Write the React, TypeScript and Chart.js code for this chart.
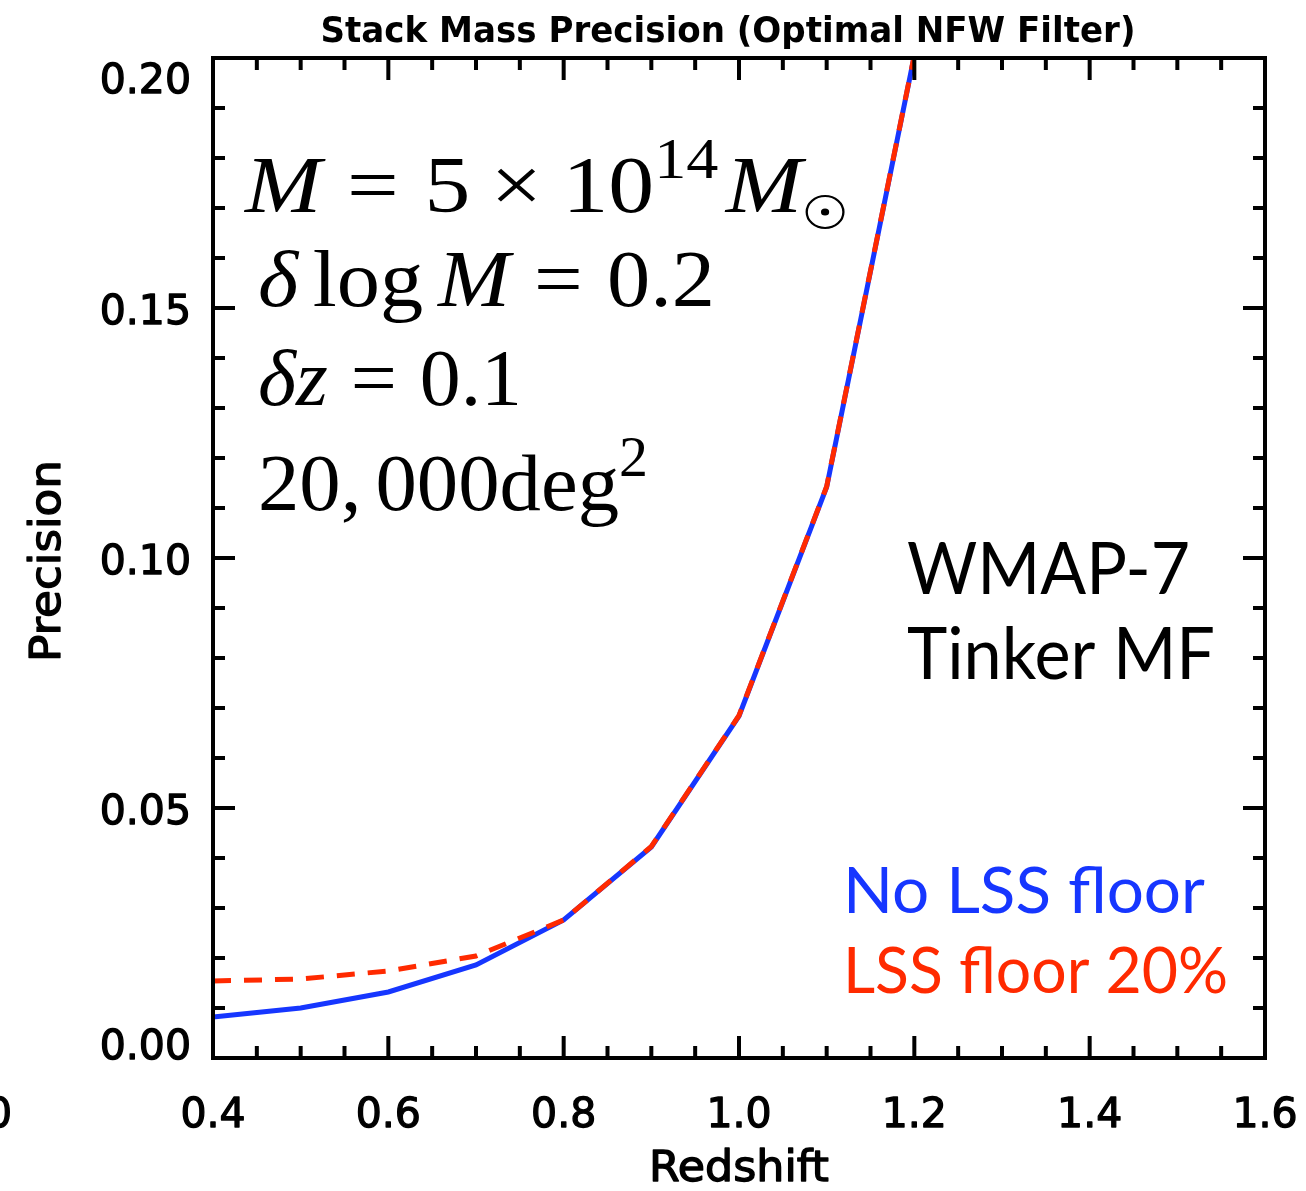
import React, { useEffect, useRef } from "react";
import { Chart, registerables } from "chart.js";

Chart.register(...registerables);

// ---- data ----
const redshift = [0.4, 0.5, 0.6, 0.7, 0.8, 0.9, 1.0, 1.1, 1.2];
const noFloor = [0.0082, 0.0100, 0.0132, 0.0186, 0.0276, 0.0422, 0.0684, 0.1142, 0.2005];
const floor20 = [0.0154, 0.0158, 0.0174, 0.0204, 0.0276, 0.0423, 0.0685, 0.1143, 0.2006];

const xTickValues = [0.4, 0.6, 0.8, 1.0, 1.2, 1.4, 1.6];
const xTickLabels = ["0.4", "0.6", "0.8", "1.0", "1.2", "1.4", "1.6"];
const yTickValues = [0.0, 0.05, 0.1, 0.15, 0.2];
const yTickLabels = ["0.00", "0.05", "0.10", "0.15", "0.20"];
const xMinorPerMajor = 4; // 0.05 steps
const yMinorPerMajor = 5; // 0.01 steps

const titleText = "Stack Mass Precision (Optimal NFW Filter)";
const xTitle = "Redshift";
const yTitle = "Precision";
const seriesNames = ["No LSS floor", "LSS floor 20%"];
const modelLines = ["WMAP-7", "Tinker MF"];

const BLUE = "#1636ff";
const RED = "#ff2a00";

const W = 1306;
const H = 1191;

function drawFit(
  ctx: CanvasRenderingContext2D,
  text: string,
  x: number,
  y: number,
  font: string,
  align: "left" | "center" | "right",
  width?: number,
  color = "#000",
  stroke = 0
) {
  ctx.save();
  ctx.font = font;
  ctx.fillStyle = color;
  ctx.strokeStyle = color;
  ctx.textBaseline = "alphabetic";
  ctx.textAlign = "left";
  const w = ctx.measureText(text).width;
  const s = width ? width / w : 1;
  const dw = w * s;
  const x0 = align === "left" ? x : align === "center" ? x - dw / 2 : x - dw;
  ctx.translate(x0, y);
  ctx.scale(s, 1);
  ctx.fillText(text, 0, 0);
  if (stroke > 0) {
    ctx.lineWidth = stroke;
    ctx.lineJoin = "round";
    ctx.strokeText(text, 0, 0);
  }
  ctx.restore();
}

type Item = { t?: string; it?: boolean; sup?: boolean; gap?: number; odot?: boolean };

function drawMath(
  ctx: CanvasRenderingContext2D,
  items: Item[],
  x: number,
  y: number,
  size: number,
  target?: number
) {
  const fam = "'Liberation Serif', 'Times New Roman', serif";
  const fontOf = (it: Item) => `${it.it ? "italic " : ""}${it.sup ? size * 0.7 : size}px ${fam}`;
  ctx.save();
  ctx.textAlign = "left";
  ctx.textBaseline = "alphabetic";
  let total = 0;
  const widths = items.map((it) => {
    let w = 0;
    if (it.gap != null) w = it.gap * size;
    else if (it.odot) w = 0.5 * size;
    else {
      ctx.font = fontOf(it);
      w = ctx.measureText(it.t || "").width;
    }
    total += w;
    return w;
  });
  const s = target ? target / total : 1;
  ctx.translate(x, y);
  ctx.scale(s, 1);
  ctx.fillStyle = "#000";
  ctx.strokeStyle = "#000";
  let cx = 0;
  items.forEach((it, i) => {
    if (it.t) {
      ctx.font = fontOf(it);
      ctx.fillText(it.t, cx, it.sup ? -0.42 * size : 0);
    } else if (it.odot) {
      const r = 0.2 * size;
      ctx.beginPath();
      ctx.lineWidth = 2;
      ctx.arc(cx + 0.25 * size, 0, r, 0, Math.PI * 2);
      ctx.stroke();
      ctx.beginPath();
      ctx.arc(cx + 0.25 * size, 0, 0.045 * size, 0, Math.PI * 2);
      ctx.fill();
    }
    cx += widths[i];
  });
  ctx.restore();
}

const framePlugin = {
  id: "idlFrame",
  afterDatasetsDraw(chart: any) {
    const ctx: CanvasRenderingContext2D = chart.ctx;
    const { left, right, top, bottom } = chart.chartArea;
    const xs = chart.scales.x;
    const ys = chart.scales.y;
    ctx.save();
    ctx.strokeStyle = "#000";
    ctx.lineWidth = 4;
    ctx.lineCap = "butt";

    // x ticks (top and bottom)
    const xStep = (xTickValues[1] - xTickValues[0]) / xMinorPerMajor;
    const nx = Math.round((xTickValues[xTickValues.length - 1] - xTickValues[0]) / xStep);
    for (let i = 1; i < nx; i++) {
      const v = xTickValues[0] + i * xStep;
      const px = xs.getPixelForValue(v);
      const len = i % xMinorPerMajor === 0 ? 22 : 12;
      ctx.beginPath();
      ctx.moveTo(px, bottom);
      ctx.lineTo(px, bottom - len);
      ctx.moveTo(px, top);
      ctx.lineTo(px, top + len);
      ctx.stroke();
    }
    // y ticks (left and right)
    const yStep = (yTickValues[1] - yTickValues[0]) / yMinorPerMajor;
    const ny = Math.round((yTickValues[yTickValues.length - 1] - yTickValues[0]) / yStep);
    for (let i = 1; i < ny; i++) {
      const v = yTickValues[0] + i * yStep;
      const py = ys.getPixelForValue(v);
      const len = i % yMinorPerMajor === 0 ? 22 : 12;
      ctx.beginPath();
      ctx.moveTo(left, py);
      ctx.lineTo(left + len, py);
      ctx.moveTo(right, py);
      ctx.lineTo(right - len, py);
      ctx.stroke();
    }
    // box
    ctx.lineWidth = 4;
    ctx.strokeRect(left, top, right - left, bottom - top);
    ctx.restore();

    const tickFont = "41px 'DejaVu Sans', sans-serif";
    // x tick labels
    xTickValues.forEach((v, i) => {
      drawFit(ctx, xTickLabels[i], xs.getPixelForValue(v), bottom + 69, tickFont, "center", undefined, "#000", 1.3);
    });
    // partially visible label at far left edge
    drawFit(ctx, "1.0", 12, bottom + 69, tickFont, "right", undefined, "#000", 1.3);
    // y tick labels
    yTickValues.forEach((v, i) => {
      let cy = ys.getPixelForValue(v) + 2;
      cy = Math.min(Math.max(cy, top + 21), bottom - 13);
      drawFit(ctx, yTickLabels[i], left - 22, cy + 14, tickFont, "right", undefined, "#000", 1.3);
    });

    // axis titles
    drawFit(ctx, xTitle, (left + right) / 2, bottom + 123, "42px 'DejaVu Sans', sans-serif", "center", 180, "#000", 1.3);
    ctx.save();
    ctx.translate(60, 561);
    ctx.rotate(-Math.PI / 2);
    drawFit(ctx, yTitle, 0, 0, "42px 'DejaVu Sans', sans-serif", "center", 202, "#000", 1.3);
    ctx.restore();
    // title
    drawFit(ctx, titleText, 728, 42, "bold 36px 'DejaVu Sans', sans-serif", "center", 815);

    // math annotations
    drawMath(
      ctx,
      [
        { t: "M", it: true },
        { gap: 0.28 },
        { t: "=" },
        { gap: 0.28 },
        { t: "5" },
        { gap: 0.22 },
        { t: "×" },
        { gap: 0.22 },
        { t: "10" },
        { t: "14", sup: true },
        { gap: 0.08 },
        { t: "M", it: true },
        { odot: true },
      ],
      245,
      212,
      80,
      603
    );
    drawMath(
      ctx,
      [
        { t: "δ", it: true },
        { gap: 0.17 },
        { t: "log" },
        { gap: 0.17 },
        { t: "M", it: true },
        { gap: 0.28 },
        { t: "=" },
        { gap: 0.28 },
        { t: "0.2" },
      ],
      258,
      306,
      80,
      457
    );
    drawMath(
      ctx,
      [
        { t: "δ", it: true },
        { t: "z", it: true },
        { gap: 0.28 },
        { t: "=" },
        { gap: 0.28 },
        { t: "0.1" },
      ],
      258,
      405,
      80,
      264
    );
    drawMath(
      ctx,
      [{ t: "20," }, { gap: 0.17 }, { t: "000deg" }, { t: "2", sup: true }],
      258,
      510,
      80,
      390
    );

    // model labels
    const gill = "'Lato', 'Open Sans', sans-serif";
    drawFit(ctx, modelLines[0], 907, 594, `71px ${gill}`, "left", 283);
    drawFit(ctx, modelLines[1], 907, 679, `71px ${gill}`, "left", 308);
    drawFit(ctx, seriesNames[0], 843, 913, `63px ${gill}`, "left", 362, BLUE);
    drawFit(ctx, seriesNames[1], 843, 993, `63px ${gill}`, "left", 385, RED);
  },
};

export default function App() {
  const ref = useRef<HTMLCanvasElement | null>(null);
  useEffect(() => {
    if (!ref.current) return;
    const chart = new Chart(ref.current, {
      type: "line",
      data: {
        datasets: [
          {
            label: seriesNames[1],
            data: redshift.map((x, i) => ({ x, y: floor20[i] })),
            borderColor: RED,
            borderWidth: 5,
            borderDash: [18, 13],
            pointRadius: 0,
            fill: false,
            tension: 0,
            clip: 0,
          },
          {
            label: seriesNames[0],
            data: redshift.map((x, i) => ({ x, y: noFloor[i] })),
            borderColor: BLUE,
            borderWidth: 5,
            pointRadius: 0,
            fill: false,
            tension: 0,
            clip: 0,
          },
        ],
      },
      options: {
        animation: false,
        responsive: false,
        devicePixelRatio: 1,
        layout: { padding: { left: 213, right: 41, top: 58, bottom: 133 } },
        plugins: { legend: { display: false }, tooltip: { enabled: false } },
        scales: {
          x: { type: "linear", min: 0.4, max: 1.6, display: false },
          y: { type: "linear", min: 0, max: 0.2, display: false },
        },
      },
      plugins: [framePlugin],
    } as any);
    return () => chart.destroy();
  }, []);
  return (
    <div style={{ position: "absolute", left: 0, top: 0, width: W, height: H, background: "#fff" }}>
      <canvas ref={ref} width={W} height={H} style={{ width: W, height: H, display: "block" }} />
    </div>
  );
}
